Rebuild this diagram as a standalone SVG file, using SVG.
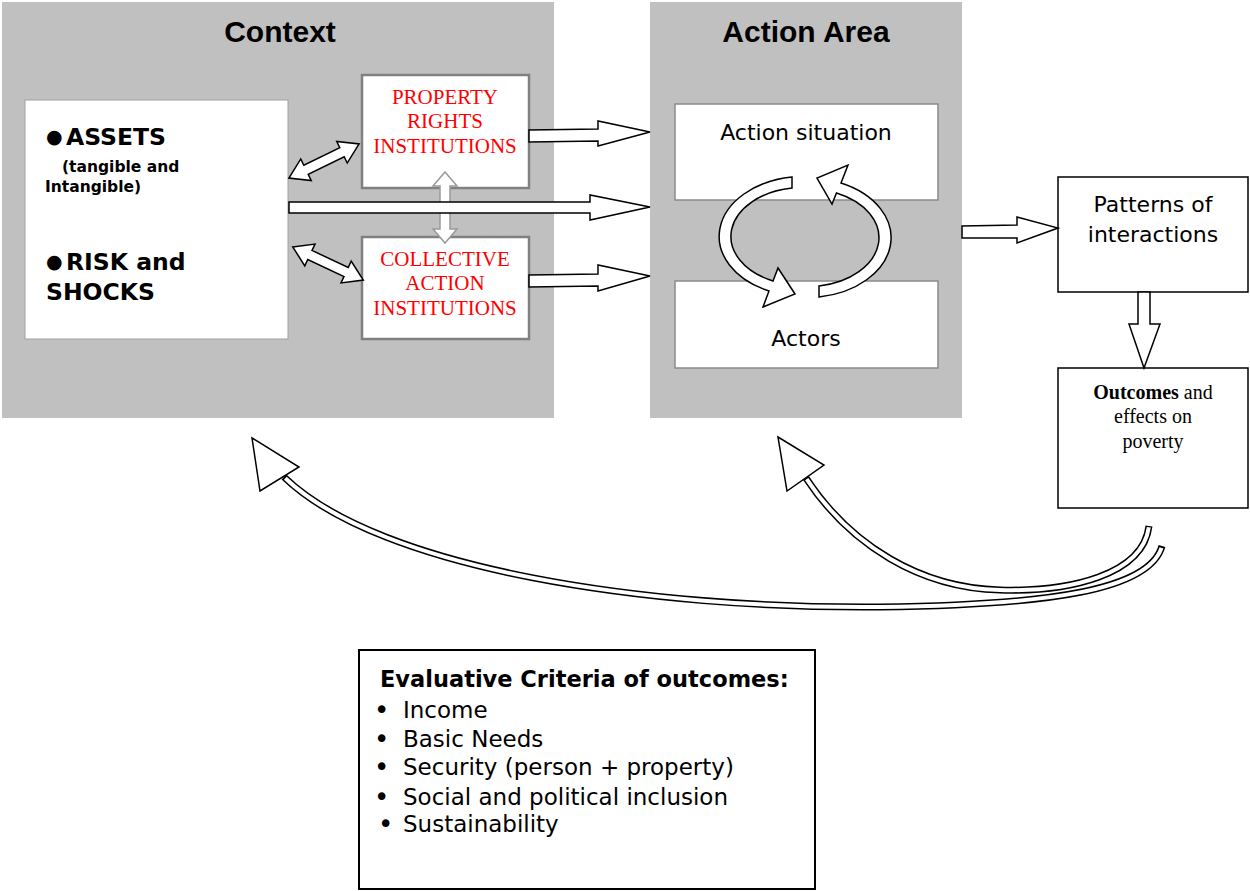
<svg xmlns="http://www.w3.org/2000/svg" width="1250" height="891" viewBox="0 0 1250 891">
<style>
.panel{fill:#c0c0c0}
.title{font-family:"Liberation Sans",Arial,sans-serif;font-weight:bold;font-size:30px;fill:#000;text-anchor:middle}
.gbox{fill:#fff;stroke:#8a8a8a;stroke-width:1.5}
.inst{fill:#fff;stroke:#808080;stroke-width:2.5}
.bbox{fill:#fff;stroke:#000;stroke-width:1.5}
.red{font-family:"Liberation Serif","Times New Roman",serif;font-size:21px;fill:#ff0000;text-anchor:middle}
.serif{font-family:"Liberation Serif","Times New Roman",serif;font-size:20px;fill:#000;text-anchor:middle}
.sans{font-family:"DejaVu Sans",Verdana,sans-serif;font-size:22px;fill:#000}
.items{font-family:"DejaVu Sans",Verdana,sans-serif;font-size:23px;fill:#000}
.bul{font-size:26px}
.mid{text-anchor:middle}
.bold{font-family:"DejaVu Sans",Verdana,sans-serif;font-weight:bold;fill:#000}
.arrow{fill:#fff;stroke:#000;stroke-width:1.5;stroke-linejoin:miter}
.garrow{fill:#fff;stroke:#999;stroke-width:1.5}
.bandO{fill:none;stroke:#000;stroke-width:7}
.bandI{fill:none;stroke:#fff;stroke-width:4}
</style>

<g id="context">
<rect class="panel" x="2" y="2" width="552" height="416"/>
<text class="title" x="280" y="42">Context</text>
</g>
<g id="action-area">
<rect class="panel" x="650" y="2" width="312" height="416"/>
<text class="title" x="806" y="42">Action Area</text>
</g>

<g id="assets">
<rect x="25" y="100" width="263" height="239" fill="#fff" stroke="#a0a0a0" stroke-width="1"/>
<text class="bold" font-size="23.5" x="46" y="143"><tspan font-size="19" font-weight="normal">●</tspan><tspan x="66" y="145">ASSETS</tspan></text>
<text class="bold" font-size="15.5" x="62" y="172">(tangible and</text>
<text class="bold" font-size="15.5" x="45" y="192">Intangible)</text>
<text class="bold" font-size="23.5" x="46" y="268"><tspan font-size="19" font-weight="normal">●</tspan><tspan x="66" y="270">RISK and</tspan></text>
<text class="bold" font-size="23.5" x="46" y="300">SHOCKS</text>
</g>

<g id="property-rights">
<rect class="inst" x="362" y="75" width="167" height="113"/>
<text class="red" x="445" y="104">PROPERTY</text>
<text class="red" x="445" y="128">RIGHTS</text>
<text class="red" x="445" y="153">INSTITUTIONS</text>
</g>

<g id="collective-action">
<rect class="inst" x="362" y="237" width="167" height="102"/>
<text class="red" x="445" y="266">COLLECTIVE</text>
<text class="red" x="445" y="290">ACTION</text>
<text class="red" x="445" y="315">INSTITUTIONS</text>
</g>

<g id="action-situation">
<rect class="gbox" x="675" y="104" width="263" height="96"/>
<text class="sans mid" x="806" y="140">Action situation</text>
</g>

<g id="actors">
<rect class="gbox" x="675" y="281" width="263" height="87"/>
<text class="sans mid" x="806" y="346">Actors</text>
</g>

<g id="patterns">
<rect class="bbox" x="1058" y="177" width="190" height="115"/>
<text class="sans mid" x="1153" y="212">Patterns of</text>
<text class="sans mid" x="1153" y="242">interactions</text>
</g>

<g id="outcomes">
<rect class="bbox" x="1058" y="368" width="190" height="140"/>
<text class="serif" x="1153" y="399"><tspan font-weight="bold">Outcomes</tspan> and</text>
<text class="serif" x="1153" y="423">effects on</text>
<text class="serif" x="1153" y="448">poverty</text>
</g>

<g id="evaluative-criteria">
<rect x="359" y="650" width="456" height="239" fill="#fff" stroke="#000" stroke-width="2"/>
<text class="bold" font-size="22.5" x="380" y="687">Evaluative Criteria of outcomes:</text>
<g class="items">
<text class="bul" x="374" y="719">•</text><text x="403" y="718">Income</text>
<text class="bul" x="374" y="748">•</text><text x="403" y="747">Basic Needs</text>
<text class="bul" x="374" y="776">•</text><text x="403" y="775">Security (person + property)</text>
<text class="bul" x="374" y="806">•</text><text x="403" y="805">Social and political inclusion</text>
<text class="bul" x="378" y="833">•</text><text x="403" y="832">Sustainability</text>
</g>
</g>

<g id="connectors">
<polygon class="garrow" points="-35.5,0 -21.5,-12 -21.5,-5 21.5,-5 21.5,-12 35.5,0 21.5,12 21.5,5 -21.5,5 -21.5,12" transform="translate(445,207.5) rotate(90)"/>
<polygon class="arrow" points="-39,0 -20,-12 -20,-5 20,-5 20,-12 39,0 20,12 20,5 -20,5 -20,12" transform="translate(324,161) rotate(-25.9)"/>
<polygon class="arrow" points="-39,0 -20,-12 -20,-5 20,-5 20,-12 39,0 20,12 20,5 -20,5 -20,12" transform="translate(328,263.5) rotate(25.2)"/>
<polygon class="arrow" points="529,130 598,129 598,121 650,132 598,146 598,141 529,142"/>
<polygon class="arrow" points="289,202 590,202 590,195 650,207 590,220 590,213 289,213"/>
<polygon class="arrow" points="529,275 598,274 598,265 650,276 598,291 598,286 529,287"/>
<polygon class="arrow" points="962,226 1017,225 1017,217 1058,228 1017,243 1017,238 962,238"/>
<polygon class="arrow" points="1138,292 1150,292 1150,324 1160,324 1144,368 1129,324 1138,324"/>
<path class="arrow" d="M792,177 A85 60 0 0 0 769,291 L763,307 L795,294 L778,268 L773,281 A72 49 0 0 1 792,188 Z"/>
<path class="arrow" d="M819,297 A85 60 0 0 0 841,183 L848,165 L817,178 L832,204 L836.5,193 A72 49 0 0 1 819,286 Z"/>
<path class="bandO" d="M1149,526 C1143,575 1070,592 1000,590 C920,588 850,545 806,478"/>
<path class="bandI" pathLength="1000" stroke-dasharray="0 3 994 20" d="M1149,526 C1143,575 1070,592 1000,590 C920,588 850,545 806,478"/>
<polygon class="arrow" points="778,437 824,465 787,491"/>
<path class="bandO" d="M1162,546 C1150,590 1050,605 880,607 C650,609 380,570 284,477"/>
<path class="bandI" pathLength="1000" stroke-dasharray="0 2 996 20" d="M1162,546 C1150,590 1050,605 880,607 C650,609 380,570 284,477"/>
<polygon class="arrow" points="252,438 299,467 260,491"/>
</g>
</svg>
